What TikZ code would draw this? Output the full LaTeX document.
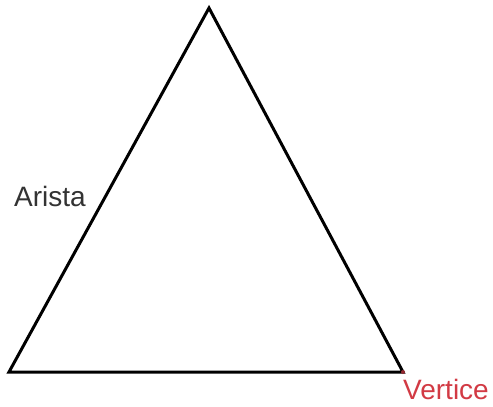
\documentclass[tikz,border=0pt]{standalone}
\usepackage{fontspec}
\setmainfont{Liberation Sans}
\definecolor{vred}{HTML}{D23A44}
\definecolor{agray}{HTML}{333333}
\begin{document}
\begin{tikzpicture}[x=1pt,y=-1pt,
  edge/.style={line width=3pt,black,line join=miter},
  lbl/.style={font=\fontsize{28}{32}\selectfont,inner sep=0pt,anchor=base west}]
\useasboundingbox[fill=white] (0,0) rectangle (493,407);
\coordinate (A) at (209,8);
\coordinate (B) at (9,372);
\coordinate (C) at (403,372);
\draw[edge] (A) -- (B) -- (C) -- cycle;
\fill[vred!70!black] (C) circle (2pt);
\node[lbl,text=agray] (arista) at (14,206) {Arista};
\node[lbl,text=vred] (vertice) at (403,399) {Vertice};
\end{tikzpicture}
\end{document}
